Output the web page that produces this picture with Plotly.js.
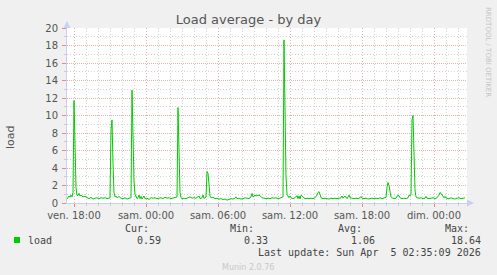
<!DOCTYPE html>
<html>
<head>
<meta charset="utf-8">
<script src="https://cdn.plot.ly/plotly-3.0.1.min.js"></script>
<style>html,body{margin:0;padding:0;background:#f0f0f0;}#chart{width:497px;height:275px;}</style>
</head>
<body>
<div id="chart"></div>
<script>
// ---- data ----
const times = [
"2026-04-03 17:25","2026-04-03 17:30","2026-04-03 17:35","2026-04-03 17:40","2026-04-03 17:45","2026-04-03 17:50","2026-04-03 17:55",
"2026-04-03 18:00","2026-04-03 18:05","2026-04-03 18:10","2026-04-03 18:15","2026-04-03 18:20","2026-04-03 18:25","2026-04-03 18:30",
"2026-04-03 18:35","2026-04-03 18:45","2026-04-03 18:55","2026-04-03 19:05","2026-04-03 19:15","2026-04-03 19:25","2026-04-03 19:35",
"2026-04-03 19:45","2026-04-03 19:55","2026-04-03 20:05","2026-04-03 20:15","2026-04-03 20:25","2026-04-03 20:35","2026-04-03 20:45",
"2026-04-03 20:55","2026-04-03 21:00","2026-04-03 21:05","2026-04-03 21:10","2026-04-03 21:15","2026-04-03 21:20","2026-04-03 21:25",
"2026-04-03 21:30","2026-04-03 21:35","2026-04-03 21:45","2026-04-03 21:55","2026-04-03 22:05","2026-04-03 22:15","2026-04-03 22:25",
"2026-04-03 22:35","2026-04-03 22:45","2026-04-03 22:50","2026-04-03 22:55","2026-04-03 23:00","2026-04-03 23:05","2026-04-03 23:10",
"2026-04-03 23:15","2026-04-03 23:20","2026-04-03 23:25","2026-04-03 23:30","2026-04-03 23:35","2026-04-03 23:40","2026-04-03 23:50",
"2026-04-03 23:55",
"2026-04-04 00:05","2026-04-04 00:15","2026-04-04 00:25","2026-04-04 00:35","2026-04-04 00:45","2026-04-04 00:55","2026-04-04 01:05",
"2026-04-04 01:15","2026-04-04 01:25","2026-04-04 01:35","2026-04-04 01:45","2026-04-04 01:55","2026-04-04 02:05","2026-04-04 02:15",
"2026-04-04 02:25","2026-04-04 02:35","2026-04-04 02:40","2026-04-04 02:45","2026-04-04 02:50","2026-04-04 02:55","2026-04-04 03:00",
"2026-04-04 03:10","2026-04-04 03:20","2026-04-04 03:30","2026-04-04 03:40","2026-04-04 03:50","2026-04-04 04:00","2026-04-04 04:10",
"2026-04-04 04:20","2026-04-04 04:25","2026-04-04 04:30","2026-04-04 04:40","2026-04-04 04:45","2026-04-04 04:50","2026-04-04 05:00",
"2026-04-04 05:05","2026-04-04 05:10","2026-04-04 05:15","2026-04-04 05:20","2026-04-04 05:25","2026-04-04 05:35","2026-04-04 05:45",
"2026-04-04 05:55","2026-04-04 06:05","2026-04-04 06:15","2026-04-04 06:25","2026-04-04 06:35","2026-04-04 06:45","2026-04-04 06:55",
"2026-04-04 07:05","2026-04-04 07:15","2026-04-04 07:25","2026-04-04 07:30","2026-04-04 07:35","2026-04-04 07:45","2026-04-04 07:55",
"2026-04-04 08:05","2026-04-04 08:15","2026-04-04 08:25","2026-04-04 08:35","2026-04-04 08:45","2026-04-04 08:50","2026-04-04 08:55",
"2026-04-04 09:05","2026-04-04 09:10","2026-04-04 09:20","2026-04-04 09:30","2026-04-04 09:40","2026-04-04 09:50","2026-04-04 10:00",
"2026-04-04 10:10","2026-04-04 10:20","2026-04-04 10:30","2026-04-04 10:40","2026-04-04 10:50","2026-04-04 11:00","2026-04-04 11:10",
"2026-04-04 11:20","2026-04-04 11:25","2026-04-04 11:30","2026-04-04 11:35","2026-04-04 11:40","2026-04-04 11:45","2026-04-04 11:50",
"2026-04-04 11:55","2026-04-04 12:00","2026-04-04 12:05","2026-04-04 12:15","2026-04-04 12:25","2026-04-04 12:35","2026-04-04 12:40",
"2026-04-04 12:45","2026-04-04 12:50","2026-04-04 12:55","2026-04-04 13:00","2026-04-04 13:05","2026-04-04 13:15","2026-04-04 13:25",
"2026-04-04 13:35","2026-04-04 13:45","2026-04-04 13:55","2026-04-04 14:05","2026-04-04 14:10","2026-04-04 14:15","2026-04-04 14:20",
"2026-04-04 14:25","2026-04-04 14:30","2026-04-04 14:35","2026-04-04 14:45","2026-04-04 14:55","2026-04-04 15:05","2026-04-04 15:15",
"2026-04-04 15:25","2026-04-04 15:35","2026-04-04 15:45","2026-04-04 15:55","2026-04-04 16:05","2026-04-04 16:15","2026-04-04 16:20",
"2026-04-04 16:25","2026-04-04 16:35","2026-04-04 16:45","2026-04-04 16:55","2026-04-04 17:00","2026-04-04 17:10","2026-04-04 17:20",
"2026-04-04 17:30","2026-04-04 17:40","2026-04-04 17:50","2026-04-04 17:55","2026-04-04 18:00","2026-04-04 18:10","2026-04-04 18:20",
"2026-04-04 18:30","2026-04-04 18:40","2026-04-04 18:50","2026-04-04 19:00","2026-04-04 19:10","2026-04-04 19:20","2026-04-04 19:30",
"2026-04-04 19:40","2026-04-04 19:50","2026-04-04 20:00","2026-04-04 20:05","2026-04-04 20:10","2026-04-04 20:15","2026-04-04 20:20",
"2026-04-04 20:25","2026-04-04 20:30","2026-04-04 20:40","2026-04-04 20:50","2026-04-04 20:55","2026-04-04 21:00","2026-04-04 21:05",
"2026-04-04 21:10","2026-04-04 21:20","2026-04-04 21:30","2026-04-04 21:40","2026-04-04 21:50","2026-04-04 21:55","2026-04-04 22:00",
"2026-04-04 22:05","2026-04-04 22:10","2026-04-04 22:15","2026-04-04 22:20","2026-04-04 22:25","2026-04-04 22:30","2026-04-04 22:35",
"2026-04-04 22:45","2026-04-04 22:55","2026-04-04 23:05","2026-04-04 23:15","2026-04-04 23:20","2026-04-04 23:25","2026-04-04 23:35",
"2026-04-04 23:45","2026-04-04 23:55",
"2026-04-05 00:05","2026-04-05 00:15","2026-04-05 00:25","2026-04-05 00:30","2026-04-05 00:35","2026-04-05 00:40","2026-04-05 00:45",
"2026-04-05 00:50","2026-04-05 00:55","2026-04-05 01:00","2026-04-05 01:05","2026-04-05 01:10","2026-04-05 01:15","2026-04-05 01:25",
"2026-04-05 01:35","2026-04-05 01:45","2026-04-05 01:55","2026-04-05 02:05","2026-04-05 02:15","2026-04-05 02:25","2026-04-05 02:35"
];
const load = [
0.45,0.6,0.8,0.65,0.9,0.7,1.2,
11.7,5.5,1.8,0.9,0.85,1.1,0.8,
0.9,0.7,0.75,0.6,0.5,0.65,0.45,
0.55,0.6,0.5,0.6,0.55,0.6,0.5,
0.55,0.6,8.4,9.5,4.5,1.2,0.7,
0.8,0.6,0.75,0.55,0.5,0.6,0.45,
0.55,0.6,12.9,6.5,2.5,1.0,0.7,
0.5,0.6,0.9,0.5,0.75,0.45,0.8,
0.5,
0.55,0.4,0.6,0.55,0.6,0.5,0.55,
0.6,0.5,0.65,0.55,0.6,0.5,0.55,
0.6,0.7,10.9,5.0,1.2,0.6,0.5,
0.55,0.5,0.6,0.7,0.55,0.6,0.55,
0.7,0.8,0.5,0.6,0.9,0.5,0.7,
3.6,3.4,1.6,0.8,0.6,0.65,0.5,
0.55,0.45,0.5,0.4,0.45,0.33,0.4,
0.5,0.45,0.55,0.7,0.5,0.55,0.45,
0.5,0.6,0.55,0.5,0.7,1.1,0.7,
0.9,0.8,0.9,0.85,0.6,0.55,0.5,
0.55,0.5,0.6,0.55,0.6,0.5,0.55,
0.6,0.7,18.64,9.0,3.0,1.0,0.7,
0.6,0.8,0.6,0.5,0.6,0.85,0.5,
0.8,0.45,0.9,0.8,0.6,0.5,0.55,
0.5,0.55,0.5,0.6,0.7,0.9,1.2,
1.3,1.0,0.6,0.5,0.55,0.5,0.45,
0.55,0.5,0.55,0.5,0.55,0.6,0.8,
0.55,0.8,0.5,0.9,0.6,0.55,0.5,
0.55,0.5,0.6,0.75,0.55,0.5,0.55,
0.45,0.5,0.55,0.5,0.55,0.5,0.6,
0.5,0.55,0.65,1.8,2.35,2.0,1.0,
0.7,0.6,0.5,0.55,0.7,0.9,0.85,
0.6,0.5,0.55,0.5,0.6,0.9,0.8,
1.0,9.5,10.0,5.0,1.5,0.7,0.6,
0.55,0.6,0.5,0.55,0.75,0.55,0.5,
0.55,0.6,
0.5,0.6,0.9,1.2,1.1,0.9,0.8,
0.6,0.75,0.55,0.6,0.45,0.5,0.6,
0.5,0.45,0.55,0.6,0.5,0.55,0.59
];
const xTickVals = ["2026-04-03 18:00","2026-04-04 00:00","2026-04-04 06:00","2026-04-04 12:00","2026-04-04 18:00","2026-04-05 00:00"];
const xTickText = ["ven. 18:00","sam. 00:00","sam. 06:00","sam. 12:00","sam. 18:00","dim. 00:00"];
const xRange = ["2026-04-03 17:25","2026-04-05 02:45"];
const yRange = [0, 20];
const seriesName = "load";
const statHeads = ["Cur:","Min:","Avg:","Max:"];
const statVals = ["0.59","0.33","1.06","18.64"];
const lastUpdate = "Last update: Sun Apr\u00a0\u00a05 02:35:09 2026";

// ---- layout helpers (pixel -> paper) ----
const W = 497, H = 275, L = 67, R = 30, T = 28, B = 72;
const PW = W - L - R, PH = H - T - B;
const px = x => (x - L) / PW;
const py = y => (H - B - y) / PH;

const mono = {family: "DejaVu Sans Mono", size: 10, color: "#444"};
const ann = (text, x, y, xanchor, font, extra) => Object.assign({
  text: text, xref: "paper", yref: "paper", x: px(x), y: py(y),
  xanchor: xanchor, yanchor: "middle", showarrow: false, font: font
}, extra || {});

const annotations = [
  ann("load", 10, 137, "center", {family: "DejaVu Sans", size: 11, color: "#555"}, {textangle: -90}),
  ann(seriesName, 26, 240, "left", mono),
  ann("RRDTOOL / TOBI OETIKER", 488, 52, "center", {family: "DejaVu Sans", size: 7, color: "#c4c4c4"}, {textangle: 90}),
  ann("Munin 2.0.76", 248, 267, "center", {family: "DejaVu Sans", size: 8, color: "#c8c8c8"}),
  ann(lastUpdate, 483, 252, "right", mono)
];
const headRight = [151, 256, 364, 471];
const valRight = [163, 270, 377, 483];
statHeads.forEach((h, i) => {
  annotations.push(ann(h, headRight[i], 228, "right", mono));
  annotations.push(ann(statVals[i], valRight[i], 240, "right", mono));
});

const axisCol = "#c8d0f4";
const shapes = [
  {type: "rect", xref: "paper", yref: "paper", x0: px(14), x1: px(20), y0: py(243), y1: py(237),
   fillcolor: "#00cc00", line: {width: 0}},
  {type: "path", xref: "paper", yref: "paper", fillcolor: axisCol, line: {width: 0},
   path: `M ${px(63.5)} ${py(28)} L ${px(70.5)} ${py(28)} L ${px(67)} ${py(21)} Z`},
  {type: "path", xref: "paper", yref: "paper", fillcolor: axisCol, line: {width: 0},
   path: `M ${px(467)} ${py(199.5)} L ${px(467)} ${py(206.5)} L ${px(474)} ${py(203)} Z`}
];

const trace = {
  x: times, y: load, type: "scatter", mode: "lines", name: seriesName,
  line: {color: "#00cc00", width: 1}, hoverinfo: "skip"
};

const majorGrid = "rgba(225,110,110,0.55)";
const majorGridX = "rgba(235,140,140,0.4)";
const minorGrid = "#d2d2d2";
const layout = {
  width: W, height: H,
  margin: {l: L, r: R, t: T, b: B, pad: 0},
  paper_bgcolor: "#f0f0f0", plot_bgcolor: "#ffffff",
  showlegend: false,
  font: {family: "DejaVu Sans", size: 10, color: "#555"},
  title: {text: "Load average - by day", xref: "container", x: 0.5, xanchor: "center",
          yref: "container", y: 1 - 19 / H, yanchor: "middle",
          font: {family: "DejaVu Sans", size: 13, color: "#555"}},
  xaxis: {
    type: "date", range: xRange, tickmode: "array", tickvals: xTickVals, ticktext: xTickText,
    showgrid: true, gridcolor: majorGridX, griddash: "1px,2px", gridwidth: 1,
    ticks: "outside", ticklen: 3, tickcolor: "#e88", tickwidth: 1,
    minor: {tickmode: "linear", tick0: "2026-04-03 18:00", dtick: 3600000, showgrid: true,
            gridcolor: minorGrid, griddash: "1px,2px", ticks: "outside", ticklen: 2, tickcolor: "#ccc"},
    showline: true, linecolor: axisCol, linewidth: 1, zeroline: false,
    tickfont: {family: "DejaVu Sans", size: 10, color: "#555"}, fixedrange: true
  },
  yaxis: {
    range: yRange, tickmode: "linear", tick0: 0, dtick: 2,
    showgrid: true, gridcolor: majorGrid, griddash: "1px,1px", gridwidth: 1,
    ticks: "outside", ticklen: 4, tickcolor: "#e88", ticklabelstandoff: 2,
    minor: {tickmode: "linear", tick0: 0, dtick: 1, showgrid: true, gridcolor: minorGrid,
            griddash: "1px,2px", ticks: "outside", ticklen: 2, tickcolor: "#ccc"},
    showline: true, linecolor: axisCol, linewidth: 1, zeroline: false,
    tickfont: {family: "DejaVu Sans", size: 10, color: "#555"}, fixedrange: true
  },
  annotations: annotations,
  shapes: shapes
};

Plotly.newPlot("chart", [trace], layout, {displayModeBar: false, staticPlot: true});
</script>
</body>
</html>
